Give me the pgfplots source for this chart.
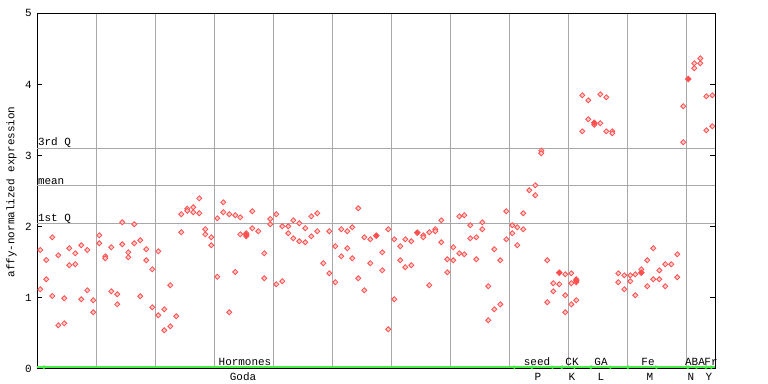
\documentclass[border=0pt]{standalone}
\usepackage{fontspec}
\setmainfont{Liberation Mono}
\usepackage{pgfplots}
\pgfplotsset{compat=1.18}
\usepackage{pgfplotstable}
\usetikzlibrary{arrows.meta}
\definecolor{ptred}{RGB}{255,80,80}
\definecolor{gridgray}{RGB}{168,168,168}
\definecolor{arrgreen}{RGB}{70,240,70}

\pgfplotstableread{
x y
40.3 1.673
40.3 1.120
46.3 1.532
46.3 1.261
52.3 1.851
52.3 1.026
58.3 1.598
58.3 0.614
64.3 0.994
64.3 0.642
69.3 1.697
69.3 1.458
75.3 1.626
75.3 1.472
81.3 1.739
81.3 0.980
87.3 1.673
87.3 1.106
93.3 0.966
93.3 0.797
99.3 1.879
99.3 1.767
105.3 1.584
105.3 1.556
111.3 1.711
111.3 1.092
117.3 1.050
117.3 0.909
122.3 2.062
122.3 1.753
128.3 1.640
128.3 1.570
134.3 2.034
134.3 1.767
140.3 1.809
140.3 1.022
146.3 1.683
146.3 1.528
152.3 1.401
152.3 0.867
158.3 1.654
158.3 0.755
164.3 0.839
164.3 0.544
170.3 1.177
170.3 0.600
176.3 0.741
181.3 2.175
181.3 1.922
187.3 2.253
187.3 2.225
193.3 2.273
193.3 2.203
199.3 2.399
199.3 2.189
205.3 1.964
205.3 1.893
211.3 1.851
211.3 1.739
217.3 2.118
217.3 1.297
223.3 2.343
223.3 2.203
229.3 2.175
229.3 0.797
235.3 2.161
235.3 1.364
240.3 2.132
240.3 1.893
246.3 1.908
246.3 1.865
252.3 2.217
252.3 1.978
258.3 1.936
264.3 1.626
264.3 1.275
270.3 2.109
270.3 2.034
276.3 2.175
276.3 1.191
282.3 2.006
282.3 1.233
288.3 2.006
288.3 1.908
293.3 2.090
293.3 1.837
299.3 2.048
299.3 1.795
305.3 1.978
305.3 1.781
311.3 2.146
311.3 1.865
317.3 2.189
317.3 1.936
323.3 1.486
329.3 1.936
329.3 1.345
335.3 1.725
335.3 1.219
341.3 1.964
341.3 1.584
347.3 1.936
347.3 1.697
352.3 1.992
352.3 1.556
358.3 2.259
358.3 1.275
364.3 1.851
364.3 1.106
370.3 1.823
370.3 1.486
382.3 1.640
382.3 1.387
388.3 1.964
388.3 0.558
394.3 1.823
394.3 0.980
400.3 1.725
400.3 1.528
405.3 1.823
405.3 1.430
411.3 1.795
411.3 1.458
423.3 1.879
423.3 1.851
429.3 1.922
429.3 1.177
435.3 1.964
435.3 1.936
441.3 2.090
441.3 1.781
447.3 1.542
447.3 1.359
453.3 1.711
453.3 1.528
459.3 2.146
459.3 1.626
464.3 2.161
464.3 1.612
470.3 2.020
470.3 1.837
476.3 1.851
476.3 1.542
482.3 2.062
482.3 1.964
488.3 1.163
488.3 0.685
494.3 1.683
494.3 0.839
500.3 1.528
500.3 0.909
506.3 2.217
506.3 1.823
512.3 2.020
512.3 1.908
517.3 1.992
517.3 1.739
523.3 2.189
523.3 1.964
529.3 2.512
535.3 2.582
535.3 2.442
541.3 3.069
541.3 3.032
547.3 1.528
547.3 0.938
553.3 1.205
553.3 1.092
559.3 1.191
565.3 1.331
565.3 1.036
565.3 0.797
571.3 1.345
571.3 1.205
571.3 0.909
576.3 1.261
576.3 1.219
576.3 0.966
582.3 3.847
582.3 3.341
588.3 3.777
588.3 3.510
594.3 3.434
600.3 3.861
600.3 3.454
606.3 3.819
606.3 3.341
612.3 3.341
612.3 3.313
618.3 1.345
618.3 1.219
624.3 1.317
624.3 1.120
630.3 1.317
630.3 1.233
635.3 1.331
635.3 1.036
641.3 1.401
647.3 1.528
647.3 1.163
653.3 1.697
653.3 1.261
659.3 1.387
659.3 1.261
665.3 1.472
665.3 1.163
671.3 1.472
677.3 1.612
677.3 1.289
683.3 3.693
683.3 3.187
694.3 4.297
694.3 4.227
700.3 4.367
700.3 4.297
706.3 3.833
706.3 3.355
712.3 3.847
712.3 3.412
}\hollow

\pgfplotstableread{
x y
246.3 1.887
376.3 1.874
417.3 1.916
559.3 1.354
576.3 1.240
594.3 3.462
641.3 1.354
688.3 4.076
}\filled

\begin{document}
\begin{tikzpicture}[font=\fontsize{11}{12}\selectfont]
\path[use as bounding box] (0,0) rectangle (768bp,384bp);
\begin{axis}[
  at={(37.3bp,15bp)}, anchor=south west,
  scale only axis, width=677.7bp, height=355.7bp,
  xmin=37.3, xmax=715, ymin=0, ymax=5,
  clip=false,
  axis line style={black, line width=1bp},
  xtick={96.3,155.3,214.3,273.3,332.3,391.3,450.3,509.3,568.3,627.3,686.3},
  xticklabels={}, xtick style={draw=none},
  xmajorgrids, major grid style={gridgray, line width=1bp},
  ytick={0,1,2,3,4,5}, ytick pos=both, yticklabel pos=left,
  tick align=inside, major tick length=5bp,
  ytick style={black, line width=1bp},
  /pgf/number format/assume math mode=true,
  yticklabel style={font=\fontsize{11}{12}\selectfont, xshift=-2bp},
]
\draw[gridgray, line width=1bp] (axis cs:37.3,2.04) -- (axis cs:715,2.04);
\draw[gridgray, line width=1bp] (axis cs:37.3,2.58) -- (axis cs:715,2.58);
\draw[gridgray, line width=1bp] (axis cs:37.3,3.10) -- (axis cs:715,3.10);
\node[anchor=south west, inner sep=0.5bp] at (axis cs:37.3,3.10) {3rd Q};
\node[anchor=south west, inner sep=0.5bp] at (axis cs:37.3,2.58) {mean};
\node[anchor=south west, inner sep=0.5bp] at (axis cs:37.3,2.04) {1st Q};
\addplot[only marks, mark=square*, mark size=1.8bp,
  mark options={rotate=45, draw=ptred, fill=ptred!30, line width=0.8bp}] table {\hollow};
\addplot[only marks, mark=square*, mark size=2bp,
  mark options={rotate=45, draw=ptred, fill=ptred, line width=0.8bp}] table {\filled};
\end{axis}
% y label
\node[rotate=90] at (11.5bp,192bp) {affy-normalized expression};
% green bar at bottom
\draw[arrgreen, line width=2bp] (37.3bp,16.8bp) -- (715bp,16.8bp);
\begin{scope}[arrgreen, line width=1.5bp, arrows={Latex[length=4.5bp,width=4.5bp]-Latex[length=4.5bp,width=4.5bp]}]
\draw (40bp,16.8bp) -- (518bp,16.8bp);
\draw (528bp,16.8bp) -- (556bp,16.8bp);
\draw (558bp,16.8bp) -- (578bp,16.8bp);
\draw (587bp,16.8bp) -- (614bp,16.8bp);
\draw (624bp,16.8bp) -- (660bp,16.8bp);
\draw (684bp,16.8bp) -- (700bp,16.8bp);
\draw (702bp,16.8bp) -- (715bp,16.8bp);
\end{scope}
% group labels
\node[anchor=base, inner sep=0pt] at (245bp,19bp) {Hormones};
\node[anchor=base, inner sep=0pt] at (537bp,19bp) {seed};
\node[anchor=base, inner sep=0pt] at (572bp,19bp) {CK};
\node[anchor=base, inner sep=0pt] at (601bp,19bp) {GA};
\node[anchor=base, inner sep=0pt] at (648bp,19bp) {Fe};
\node[anchor=base, inner sep=0pt] at (695bp,19bp) {ABA};
\node[anchor=base, inner sep=0pt] at (711bp,19bp) {Fr};
\node[anchor=base, inner sep=0pt] at (243bp,4bp) {Goda};
\node[anchor=base, inner sep=0pt] at (538bp,4bp) {P};
\node[anchor=base, inner sep=0pt] at (572bp,4bp) {K};
\node[anchor=base, inner sep=0pt] at (601bp,4bp) {L};
\node[anchor=base, inner sep=0pt] at (650bp,4bp) {M};
\node[anchor=base, inner sep=0pt] at (691bp,4bp) {N};
\node[anchor=base, inner sep=0pt] at (709bp,4bp) {Y};
\end{tikzpicture}
\end{document}
